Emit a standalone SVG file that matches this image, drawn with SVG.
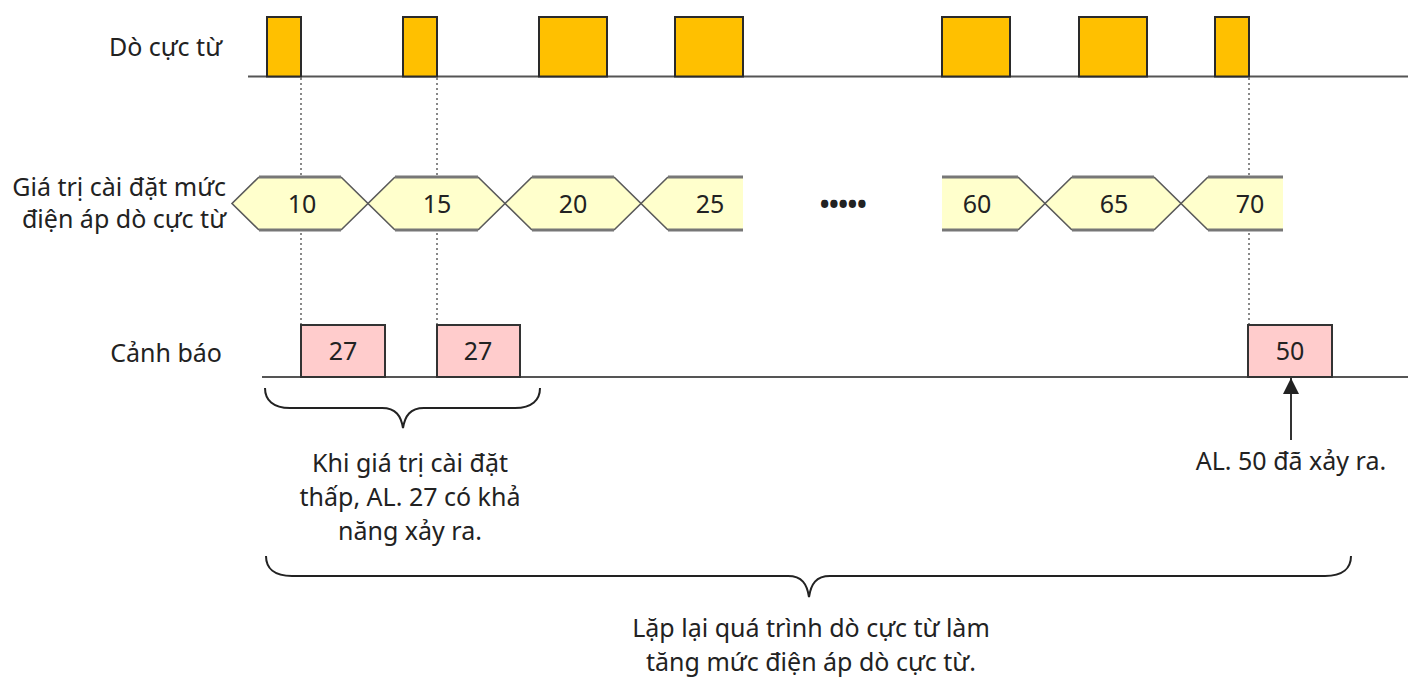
<svg xmlns="http://www.w3.org/2000/svg" width="1408" height="678" viewBox="0 0 1408 678">
<style>
text{font-family:"Noto Sans","Open Sans","DejaVu Sans",sans-serif;font-size:25px;fill:#222}
.lbl{text-anchor:end}
.mid{text-anchor:middle}
.base{stroke:#555;stroke-width:2;fill:none}
.pulse{fill:#FFC000;stroke:#2a2a2a;stroke-width:2}
.hexf{fill:#FFFFCC;stroke:none}
.hexd{stroke:#5a5a5a;stroke-width:1.6;fill:none}
.hexe{stroke:#777;stroke-width:3;fill:none}
.alarm{fill:#FFCCCC;stroke:#333;stroke-width:2}
.dot{stroke:#888;stroke-width:2;stroke-dasharray:2 3;fill:none}
.brace{stroke:#222;stroke-width:2;fill:none}
</style>
<defs>
<marker id="ah" viewBox="0 0 10 10" refX="10" refY="5" markerWidth="16" markerHeight="16" markerUnits="userSpaceOnUse" orient="auto">
<path d="M0,0 L10,5 L0,10 Z" fill="#222"/>
</marker>
</defs>

<g id="connectors">
<line class="dot" x1="301" y1="78" x2="301" y2="325"/>
<line class="dot" x1="437" y1="78" x2="437" y2="325"/>
<line class="dot" x1="1249" y1="78" x2="1249" y2="325"/>
<line x1="1291" y1="440" x2="1291" y2="378" stroke="#333" stroke-width="2" marker-end="url(#ah)"/>
</g>

<g id="row-do-cuc-tu">
<text class="lbl" x="222" y="56">Dò cực từ</text>
<line class="base" x1="248" y1="76.5" x2="1408" y2="76.5"/>
<rect class="pulse" x="267" y="17" width="34" height="59.5"/>
<rect class="pulse" x="403" y="17" width="34" height="59.5"/>
<rect class="pulse" x="539" y="17" width="68" height="59.5"/>
<rect class="pulse" x="675" y="17" width="68" height="59.5"/>
<rect class="pulse" x="942" y="17" width="68" height="59.5"/>
<rect class="pulse" x="1079" y="17" width="68" height="59.5"/>
<rect class="pulse" x="1215" y="17" width="34" height="59.5"/>
</g>

<g id="row-gia-tri">
<text class="lbl" x="226" y="196">Giá trị cài đặt mức</text>
<text class="lbl" x="226" y="228">điện áp dò cực từ</text>
</g>

<g id="hex-10">
<polygon class="hexf" points="232,203.5 259,177 341,177 368,203.5 341,230 259,230"/>
<path class="hexd" d="M259,177 L232,203.5 L259,230 M341,177 L368,203.5 L341,230"/>
<path class="hexe" d="M259,177 H341 M259,230 H341"/>
<text class="mid" x="302" y="212.5">10</text>
</g>
<g id="hex-15">
<polygon class="hexf" points="368,203.5 395,177 478,177 505,203.5 478,230 395,230"/>
<path class="hexd" d="M395,177 L368,203.5 L395,230 M478,177 L505,203.5 L478,230"/>
<path class="hexe" d="M395,177 H478 M395,230 H478"/>
<text class="mid" x="437" y="212.5">15</text>
</g>
<g id="hex-20">
<polygon class="hexf" points="505,203.5 532,177 614,177 641,203.5 614,230 532,230"/>
<path class="hexd" d="M532,177 L505,203.5 L532,230 M614,177 L641,203.5 L614,230"/>
<path class="hexe" d="M532,177 H614 M532,230 H614"/>
<text class="mid" x="573" y="212.5">20</text>
</g>
<g id="hex-25">
<polygon class="hexf" points="641,203.5 668,177 743,177 743,230 668,230"/>
<path class="hexd" d="M668,177 L641,203.5 L668,230"/>
<path class="hexe" d="M668,177 H743 M668,230 H743"/>
<text class="mid" x="710" y="212.5">25</text>
</g>
<g id="ellipsis">
<text class="mid" x="843" y="214" style="font-size:26px;font-weight:bold;letter-spacing:-0.5px">•••••</text>
</g>
<g id="hex-60">
<polygon class="hexf" points="942,177 1018,177 1045,203.5 1018,230 942,230"/>
<path class="hexd" d="M1018,177 L1045,203.5 L1018,230"/>
<path class="hexe" d="M942,177 H1018 M942,230 H1018"/>
<text class="mid" x="977" y="212.5">60</text>
</g>
<g id="hex-65">
<polygon class="hexf" points="1045,203.5 1072,177 1154,177 1181,203.5 1154,230 1072,230"/>
<path class="hexd" d="M1072,177 L1045,203.5 L1072,230 M1154,177 L1181,203.5 L1154,230"/>
<path class="hexe" d="M1072,177 H1154 M1072,230 H1154"/>
<text class="mid" x="1114" y="212.5">65</text>
</g>
<g id="hex-70">
<polygon class="hexf" points="1181,203.5 1208,177 1283,177 1283,230 1208,230"/>
<path class="hexd" d="M1208,177 L1181,203.5 L1208,230"/>
<path class="hexe" d="M1208,177 H1283 M1208,230 H1283"/>
<text class="mid" x="1250" y="212.5">70</text>
</g>

<g id="row-canh-bao">
<text class="lbl" x="222" y="362">Cảnh báo</text>
<line class="base" x1="262" y1="377" x2="1408" y2="377"/>
</g>
<g id="alarm-27a">
<rect class="alarm" x="301" y="325" width="84" height="52"/>
<text class="mid" x="343" y="360">27</text>
</g>
<g id="alarm-27b">
<rect class="alarm" x="437" y="325" width="83" height="52"/>
<text class="mid" x="478" y="360">27</text>
</g>
<g id="alarm-50">
<rect class="alarm" x="1248" y="325" width="84" height="52"/>
<text class="mid" x="1290" y="360">50</text>
</g>

<g id="brace-small">
<path class="brace" d="M265,388 C265,400 273,408 290,408 L382,408 C396,408 401,416 403,428 C405,416 410,408 424,408 L515,408 C532,408 540,400 540,388"/>
<text class="mid" x="410" y="472">Khi giá trị cài đặt</text>
<text class="mid" x="410" y="506">thấp, AL. 27 có khả</text>
<text class="mid" x="410" y="540">năng xảy ra.</text>
</g>

<g id="note-50">
<text class="mid" x="1291" y="470">AL. 50 đã xảy ra.</text>
</g>

<g id="brace-large">
<path class="brace" d="M266,556 C266,568 274,576 292,576 L788,576 C802,576 807,584 809,597 C811,584 816,576 830,576 L1325,576 C1343,576 1351,568 1351,556"/>
<text class="mid" x="811" y="637">Lặp lại quá trình dò cực từ làm</text>
<text class="mid" x="811" y="671">tăng mức điện áp dò cực từ.</text>
</g>
</svg>
